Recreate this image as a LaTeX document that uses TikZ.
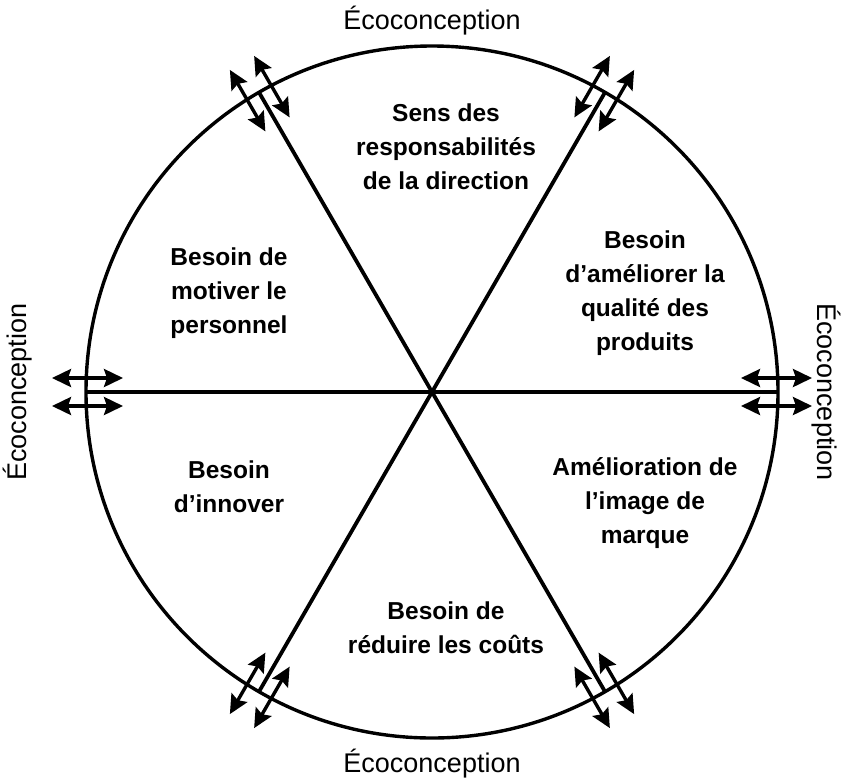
\documentclass[tikz,border=0pt]{standalone}
\usepackage{fontspec}
\setmainfont{Liberation Sans}
\usetikzlibrary{arrows.meta,calc}
\begin{document}
\begin{tikzpicture}[x=1pt,y=-1pt,
  lbl/.style={font=\fontsize{24.5}{34}\selectfont\bfseries, align=center, inner sep=0pt},
  eco/.style={font=\fontsize{27}{30}\selectfont, inner sep=0pt},
  rim/.style={line width=3.4pt},
  spoke/.style={line width=3.8pt},
  hd/.style={},
  dbl/.style={line width=3.4pt, {Stealth[length=19pt,width=18pt,inset=3pt]}-{Stealth[length=19pt,width=18pt,inset=3pt]}}]
\useasboundingbox (0,0) rectangle (845,780);
\coordinate (O) at (432,392);
\draw[rim] (O) circle[radius=346pt];
\foreach \a in {0,60,...,300}{
  \coordinate (s\a) at ($(O)+(\a:346)$);
  \coordinate (ia\a) at ($(O)+(\a:309)+(\a+90:14)$);
  \coordinate (oa\a) at ($(O)+(\a:380)+(\a+90:14)$);
  \coordinate (ib\a) at ($(O)+(\a:309)+(\a-90:14)$);
  \coordinate (ob\a) at ($(O)+(\a:380)+(\a-90:14)$);
  \draw[dbl] (ia\a) -- (oa\a);
  \draw[dbl] (ib\a) -- (ob\a);
}
\draw[spoke] (s0) -- (s180);
\draw[spoke] (s60) -- (s240);
\draw[spoke] (s120) -- (s300);
\node[lbl] (top) at (446,147) {Sens des\\responsabilités\\de la direction};
\node[lbl] (ur) at (645,293) {Besoin\\d’améliorer la\\qualité des\\produits};
\node[lbl] (ul) at (229,293) {Besoin de\\motiver le\\personnel};
\node[lbl] (ll) at (229,487) {Besoin\\d’innover};
\node[lbl] (lr) at (645,503) {Amélioration de\\l’image de\\marque};
\node[lbl] (bot) at (446,628) {Besoin de\\réduire les coûts};
\node[eco] (et) at (432,21) {Écoconception};
\node[eco] (eb) at (432,764) {Écoconception};
\node[eco, rotate=90] (el) at (18,392) {Écoconception};
\node[eco, rotate=-90] (er) at (826,392) {Écoconception};
\end{tikzpicture}
\end{document}
